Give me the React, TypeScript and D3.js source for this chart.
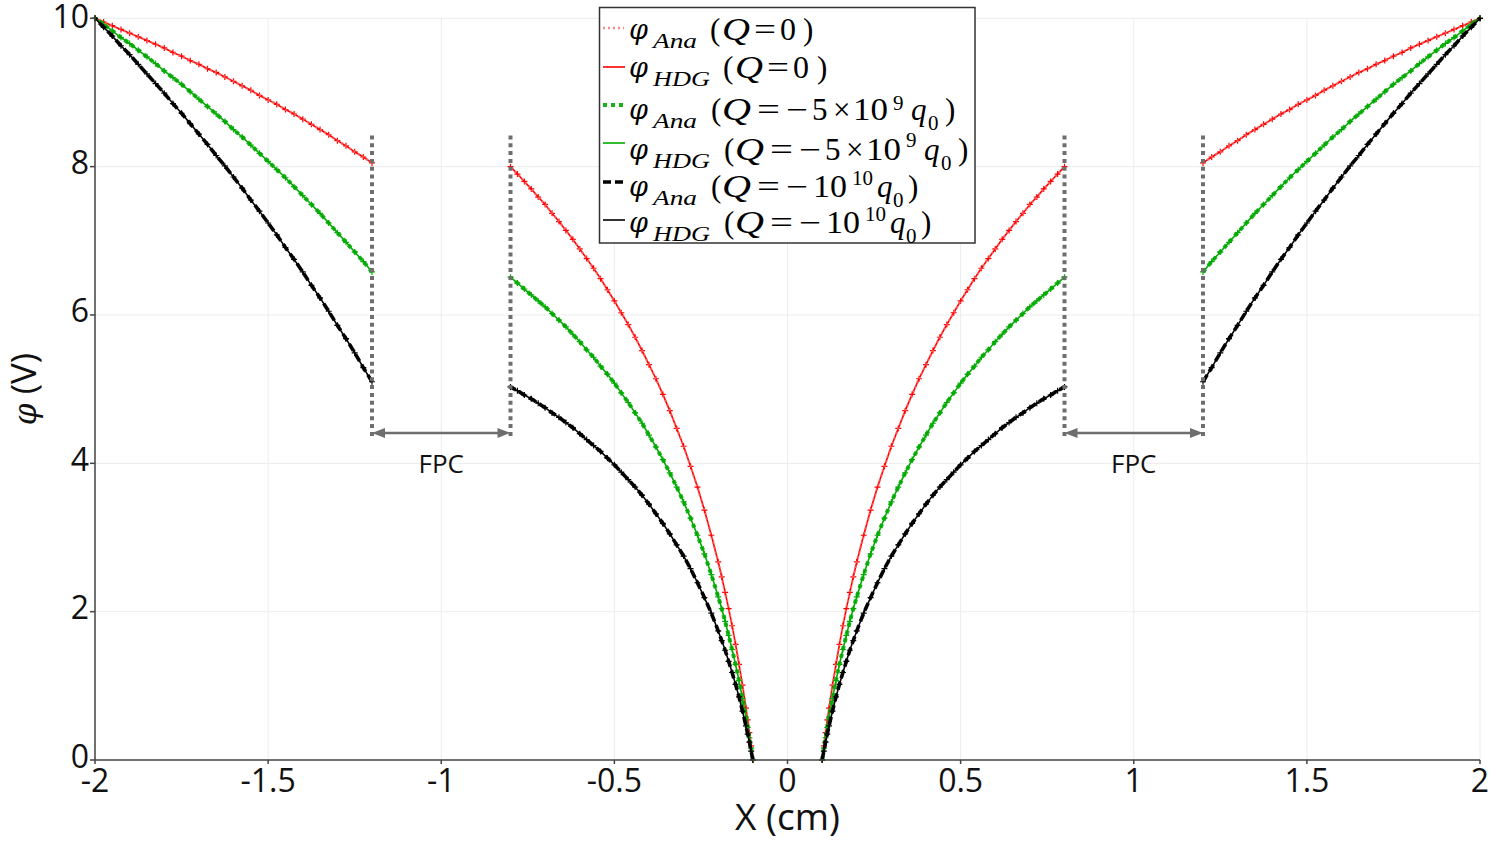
import React from 'react';
import * as d3 from 'd3';

// ---------- data ----------
const X_TICKS = [-2, -1.5, -1, -0.5, 0, 0.5, 1, 1.5, 2];
const X_TICK_LABELS = ['-2', '-1.5', '-1', '-0.5', '0', '0.5', '1', '1.5', '2'];
const Y_TICKS = [0, 2, 4, 6, 8, 10];
const Y_TICK_LABELS = ['0', '2', '4', '6', '8', '10'];

// inner region (between the FPC and the centre), |x| in cm
const X_MID = [0.1, 0.105, 0.11, 0.115, 0.12, 0.13, 0.14, 0.15, 0.16, 0.17, 0.18, 0.19, 0.2,
  0.22, 0.24, 0.26, 0.28, 0.3, 0.32, 0.34, 0.36, 0.38, 0.4, 0.42, 0.44, 0.46, 0.48, 0.5,
  0.52, 0.54, 0.56, 0.58, 0.6, 0.62, 0.64, 0.66, 0.68, 0.7, 0.72, 0.74, 0.76, 0.78, 0.8];
const RED_MID = [0, 0.19, 0.37, 0.54, 0.70, 1.01, 1.29, 1.56, 1.81, 2.04, 2.26, 2.47, 2.67,
  3.03, 3.37, 3.68, 3.96, 4.23, 4.47, 4.71, 4.93, 5.14, 5.33, 5.52, 5.70, 5.87, 6.03, 6.19,
  6.34, 6.49, 6.63, 6.76, 6.89, 7.02, 7.14, 7.26, 7.37, 7.49, 7.59, 7.70, 7.80, 7.90, 8.00];
const GREEN_MID = [0, 0.16, 0.30, 0.44, 0.58, 0.83, 1.07, 1.29, 1.49, 1.68, 1.87, 2.04, 2.20,
  2.50, 2.78, 3.03, 3.26, 3.48, 3.68, 3.87, 4.05, 4.22, 4.38, 4.54, 4.68, 4.82, 4.95, 5.08,
  5.20, 5.31, 5.43, 5.53, 5.64, 5.74, 5.84, 5.93, 6.02, 6.11, 6.19, 6.27, 6.35, 6.43, 6.51];
const BLACK_MID = [0, 0.12, 0.24, 0.35, 0.46, 0.66, 0.85, 1.02, 1.18, 1.33, 1.48, 1.61, 1.74,
  1.98, 2.19, 2.39, 2.58, 2.75, 2.90, 3.05, 3.19, 3.32, 3.45, 3.57, 3.68, 3.78, 3.88, 3.98,
  4.07, 4.16, 4.24, 4.32, 4.40, 4.48, 4.55, 4.62, 4.68, 4.75, 4.81, 4.87, 4.92, 4.98, 5.03];

// outer region (FPC to electrode), |x| in cm
const X_OUT = [1.2, 1.225, 1.25, 1.275, 1.3, 1.325, 1.35, 1.375, 1.4, 1.425, 1.45, 1.475, 1.5,
  1.525, 1.55, 1.575, 1.6, 1.625, 1.65, 1.675, 1.7, 1.725, 1.75, 1.775, 1.8, 1.825, 1.85,
  1.875, 1.9, 1.925, 1.95, 1.975, 2.0];
const RED_OUT = [8.05, 8.13, 8.20, 8.28, 8.35, 8.43, 8.50, 8.57, 8.64, 8.71, 8.77, 8.84, 8.90,
  8.96, 9.03, 9.09, 9.15, 9.21, 9.27, 9.32, 9.38, 9.43, 9.49, 9.54, 9.60, 9.65, 9.70, 9.75,
  9.80, 9.85, 9.90, 9.95, 10];
const GREEN_OUT = [6.58, 6.72, 6.85, 6.98, 7.11, 7.24, 7.37, 7.49, 7.61, 7.73, 7.85, 7.96, 8.07,
  8.18, 8.29, 8.40, 8.50, 8.61, 8.71, 8.81, 8.91, 9.01, 9.11, 9.20, 9.29, 9.39, 9.48, 9.57,
  9.66, 9.74, 9.83, 9.92, 10];
const BLACK_OUT = [5.10, 5.29, 5.49, 5.68, 5.86, 6.05, 6.23, 6.40, 6.58, 6.75, 6.91, 7.08, 7.24,
  7.40, 7.55, 7.71, 7.86, 8.01, 8.15, 8.30, 8.44, 8.58, 8.72, 8.85, 8.99, 9.12, 9.25, 9.38,
  9.51, 9.63, 9.76, 9.88, 10];

// FPC region bounds (cm) and annotation label
const FPC_EDGES = [-1.2, -0.8, 0.8, 1.2];
const FPC_SPANS: [number, number][] = [[-1.2, -0.8], [0.8, 1.2]];
const FPC_LABEL = 'FPC';

const X_TITLE = 'X (cm)';
const Y_TITLE_SYMBOL = 'φ';
const Y_TITLE_UNIT = ' (V)';

// ---------- styles ----------
const SERIES = [
  { key: 'red', mid: RED_MID, out: RED_OUT, color: '#ff0000',
    ana: { stroke: '#ff6a6a', width: 2.4, dash: '2 3', opacity: 0.8 } },
  { key: 'green', mid: GREEN_MID, out: GREEN_OUT, color: '#00aa00',
    ana: { stroke: '#00aa00', width: 4, dash: '4 4', opacity: 0.9 } },
  { key: 'black', mid: BLACK_MID, out: BLACK_OUT, color: '#000000',
    ana: { stroke: '#000000', width: 3.6, dash: '8 4', opacity: 1 } },
];

const SERIF = "'Liberation Serif', 'DejaVu Serif', serif";
const PHI_FONT = "'DejaVu Serif', serif";
const SANS = "'Open Sans', 'Noto Sans', sans-serif";

type Piece = { t: string; x: number; dy?: number; size?: number; it?: boolean; tl?: number };

const LEGEND_ROWS: { base: number; sample: number; pieces: Piece[] }[] = [
  { base: 40, sample: 28, pieces: [
    { t: '(', x: 710 }, { t: 'Q', x: 722, it: true, tl: 28 }, { t: '=', x: 754, tl: 22 }, { t: '0', x: 780, tl: 16 }, { t: ')', x: 803 }] },
  { base: 78, sample: 67, pieces: [
    { t: '(', x: 723 }, { t: 'Q', x: 735, it: true, tl: 28 }, { t: '=', x: 767, tl: 22 }, { t: '0', x: 793, tl: 16 }, { t: ')', x: 817 }] },
  { base: 120, sample: 105, pieces: [
    { t: '(', x: 711 }, { t: 'Q', x: 722, it: true, tl: 29 }, { t: '=', x: 757, tl: 23 }, { t: '−', x: 786, tl: 22 }, { t: '5', x: 812 },
    { t: '×', x: 833 }, { t: '10', x: 853, tl: 35 }, { t: '9', x: 893, dy: -10, size: 21 },
    { t: 'q', x: 911, it: true }, { t: '0', x: 928, dy: 10, size: 21 }, { t: ')', x: 945 }] },
  { base: 160, sample: 143, pieces: [
    { t: '(', x: 724 }, { t: 'Q', x: 735, it: true, tl: 29 }, { t: '=', x: 770, tl: 23 }, { t: '−', x: 799, tl: 22 }, { t: '5', x: 825 },
    { t: '×', x: 846 }, { t: '10', x: 866, tl: 35 }, { t: '9', x: 906, dy: -13, size: 21 },
    { t: 'q', x: 924, it: true }, { t: '0', x: 941, dy: 10, size: 21 }, { t: ')', x: 958 }] },
  { base: 197, sample: 182, pieces: [
    { t: '(', x: 711 }, { t: 'Q', x: 722, it: true, tl: 29 }, { t: '=', x: 757, tl: 23 }, { t: '−', x: 786, tl: 22 }, { t: '10', x: 813, tl: 34 },
    { t: '10', x: 852, dy: -12, size: 21 },
    { t: 'q', x: 877, it: true }, { t: '0', x: 893, dy: 10, size: 21 }, { t: ')', x: 908 }] },
  { base: 233, sample: 220, pieces: [
    { t: '(', x: 724 }, { t: 'Q', x: 735, it: true, tl: 29 }, { t: '=', x: 770, tl: 23 }, { t: '−', x: 799, tl: 22 }, { t: '10', x: 826, tl: 34 },
    { t: '10', x: 865, dy: -12, size: 21 },
    { t: 'q', x: 890, it: true }, { t: '0', x: 906, dy: 10, size: 21 }, { t: ')', x: 921 }] },
];
const LEGEND_SUBS = ['Ana', 'HDG', 'Ana', 'HDG', 'Ana', 'HDG'];

export default function App() {
  const W = 1500, H = 846;
  const x = d3.scaleLinear().domain([-2, 2]).range([95, 1480]);
  const y = d3.scaleLinear().domain([0, 10]).range([760, 18.3]);
  const line = d3.line<[number, number]>().x(d => x(d[0])).y(d => y(d[1]));

  const segmentsOf = (mid: number[], out: number[]): [number, number][][] => [
    X_OUT.map((v, i) => [-v, out[i]] as [number, number]),
    X_MID.map((v, i) => [-v, mid[i]] as [number, number]),
    X_MID.map((v, i) => [v, mid[i]] as [number, number]),
    X_OUT.map((v, i) => [v, out[i]] as [number, number]),
  ];

  const plusPath = (pts: [number, number][], a = 3) =>
    pts.map(p => {
      const px = x(p[0]), py = y(p[1]);
      return `M${px - a},${py}h${2 * a}M${px},${py - a}v${2 * a}`;
    }).join('');

  const fpcTop = y(8.42), fpcBottom = y(4.35), arrowY = y(4.41), labelY = y(3.87);
  const gray = '#6e6e6e';

  const legendSample = (i: number, sy: number) => {
    const s = SERIES[Math.floor(i / 2)];
    const isAna = i % 2 === 0;
    if (isAna) {
      return <line x1={603} x2={624} y1={sy} y2={sy} stroke={s.ana.stroke}
        strokeWidth={s.ana.width} strokeDasharray={s.ana.dash} opacity={s.ana.opacity} />;
    }
    return <line x1={603} x2={625} y1={sy} y2={sy} stroke={s.color} strokeWidth={1.6} />;
  };

  return (
    <div style={{ position: 'absolute', left: 0, top: 0 }}>
      <svg width={W} height={H} style={{ display: 'block', background: '#fff' }}>
        {/* grid */}
        <g stroke="#ececec" strokeWidth={1}>
          {X_TICKS.map(v => <line key={'gx' + v} x1={x(v)} x2={x(v)} y1={y(10)} y2={y(0)} />)}
          {Y_TICKS.map(v => <line key={'gy' + v} x1={x(-2)} x2={x(2)} y1={y(v)} y2={y(v)} />)}
        </g>

        {/* curves */}
        {SERIES.map(s => {
          const segs = segmentsOf(s.mid, s.out);
          return (
            <g key={s.key}>
              {segs.map((seg, j) => (
                <g key={j}>
                  <path d={line(seg) || ''} fill="none" stroke={s.color} strokeWidth={1.6} />
                  <path d={plusPath(seg)} fill="none" stroke={s.color} strokeWidth={1.2} />
                  <path d={line(seg) || ''} fill="none" stroke={s.ana.stroke} strokeWidth={s.ana.width}
                    strokeDasharray={s.ana.dash} opacity={s.ana.opacity} />
                </g>
              ))}
            </g>
          );
        })}

        {/* axes */}
        <g stroke="#444" strokeWidth={1.5}>
          <line x1={x(-2)} x2={x(-2)} y1={y(10) - 1} y2={y(0)} />
          <line x1={x(-2)} x2={x(2)} y1={y(0)} y2={y(0)} />
          {Y_TICKS.map(v => <line key={'ty' + v} x1={x(-2) - 5} x2={x(-2)} y1={y(v)} y2={y(v)} />)}
          {X_TICKS.map(v => <line key={'tx' + v} x1={x(v)} x2={x(v)} y1={y(0)} y2={y(0) + 4} />)}
        </g>
        <g fontFamily={SANS} fontSize={32} fill="#111">
          {X_TICKS.map((v, i) => (
            <text key={'lx' + v} x={x(v)} y={792} textAnchor="middle">{X_TICK_LABELS[i]}</text>
          ))}
          {Y_TICKS.map((v, i) => (
            <text key={'ly' + v} x={x(-2) - 6} y={y(v) + (v === 10 ? 9.5 : 7.5)} textAnchor="end">{Y_TICK_LABELS[i]}</text>
          ))}
        </g>
        <text x={787.5} y={830} textAnchor="middle" fontFamily={SANS} fontSize={37} fill="#111">{X_TITLE}</text>
        <text transform="translate(36,389) rotate(-90)" textAnchor="middle" fontFamily={SANS} fontSize={35} fill="#111">
          <tspan fontFamily={PHI_FONT} fontStyle="italic" fontSize={31}>{Y_TITLE_SYMBOL}</tspan>
          <tspan>{Y_TITLE_UNIT}</tspan>
        </text>

        {/* FPC annotations */}
        <g stroke={gray} strokeWidth={4} strokeDasharray="4 3.8">
          {FPC_EDGES.map(v => <line key={'fe' + v} x1={x(v)} x2={x(v)} y1={fpcTop} y2={fpcBottom} />)}
        </g>
        {FPC_SPANS.map(([a, b], i) => {
          const xa = x(a), xb = x(b);
          const L = 13, hw = 5;
          return (
            <g key={'fs' + i}>
              <line x1={xa + L - 1} x2={xb - L + 1} y1={arrowY} y2={arrowY} stroke={gray} strokeWidth={2.5} />
              <path d={`M${xa},${arrowY}L${xa + L},${arrowY - hw}L${xa + L},${arrowY + hw}Z`} fill={gray} />
              <path d={`M${xb},${arrowY}L${xb - L},${arrowY - hw}L${xb - L},${arrowY + hw}Z`} fill={gray} />
              <text x={(xa + xb) / 2} y={labelY} textAnchor="middle" fontFamily={SANS} fontSize={26} fill="#111">{FPC_LABEL}</text>
            </g>
          );
        })}

        {/* legend */}
        <rect x={599.5} y={7.5} width={375.5} height={235.5} fill="#fff" stroke="#333" strokeWidth={1.5} />
        {LEGEND_ROWS.map((row, i) => (
          <g key={'lg' + i}>
            {legendSample(i, row.sample)}
            <text x={629} y={row.base - 1} fontFamily={PHI_FONT} fontStyle="italic" fontSize={27} fill="#000">φ</text>
            <text x={653} y={row.base + 8} fontFamily={SERIF} fontStyle="italic" fontSize={22} fill="#000"
              textLength={LEGEND_SUBS[i] === 'Ana' ? 44 : 57} lengthAdjust="spacingAndGlyphs">{LEGEND_SUBS[i]}</text>
            {row.pieces.map((p, k) => (
              <text key={k} x={p.x} y={row.base + (p.dy || 0)} fontFamily={SERIF}
                fontStyle={p.it ? 'italic' : 'normal'} fontSize={p.size || 31} fill="#000"
                textLength={p.tl} lengthAdjust={p.tl ? 'spacingAndGlyphs' : undefined}>{p.t}</text>
            ))}
          </g>
        ))}
      </svg>
    </div>
  );
}
